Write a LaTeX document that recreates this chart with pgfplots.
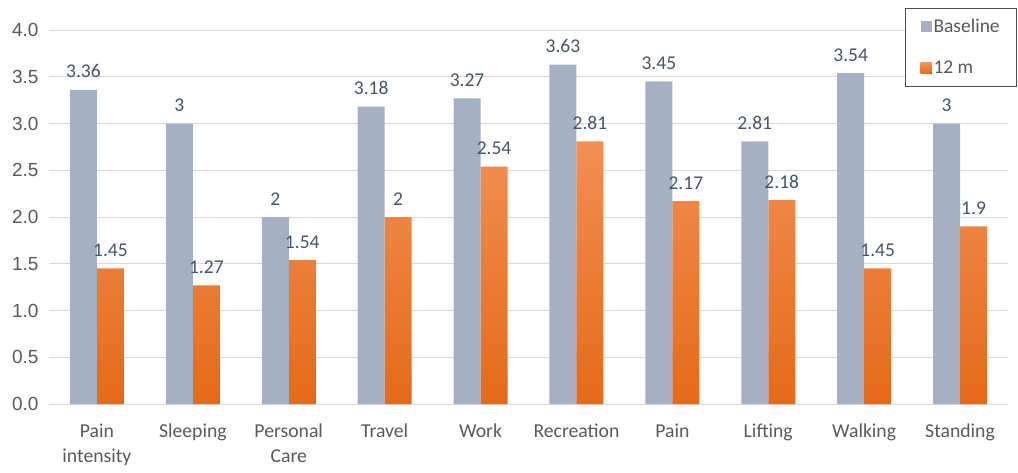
\documentclass[border=0pt]{standalone}
\usepackage{pgfplots}
\pgfplotsset{compat=1.18}
\usepackage{fontspec}
\setmainfont{Carlito}
\newfontfamily\tickfont{Liberation Sans}
\definecolor{basec}{RGB}{166,176,196}
\definecolor{orT}{RGB}{241,143,84}
\definecolor{orB}{RGB}{228,106,24}
\definecolor{valc}{RGB}{68,84,106}
\definecolor{tickc}{RGB}{89,89,89}
\definecolor{gridc}{RGB}{217,217,217}
\begin{document}
\begin{tikzpicture}[x=1pt,y=1pt]
\useasboundingbox (-49,-68) rectangle (969,404);
\begin{axis}[
  at={(0,0)}, anchor=south west,
  scale only axis, width=959pt, height=374pt,
  ybar=0pt, bar width=27pt,
  xmin=-0.5, xmax=9.5, ymin=0, ymax=4,
  xtick={0,...,9},
  xticklabels={{Pain\\intensity},Sleeping,{Personal\\Care},Travel,Work,Recreation,Pain,Lifting,Walking,Standing},
  xticklabel style={align=center, font=\fontsize{19.7}{25}\selectfont, text=tickc, yshift=-16pt},
  ytick={0,0.5,...,4},
  yticklabel style={font=\tickfont\fontsize{19}{23}\selectfont, text=tickc, xshift=-7pt,
    /pgf/number format/.cd, fixed, fixed zerofill, precision=1, assume math mode=true},
  major tick length=0pt,
  ymajorgrids, grid style={gridc, line width=0.8pt},
  axis x line*=bottom,
  axis y line*=left,
  x axis line style={draw=gridc, line width=0.8pt, -},
  y axis line style={draw=none},
  nodes near coords,
  nodes near coords style={font=\fontsize{19.5}{23}\selectfont, text=valc, inner sep=2pt, yshift=9.5pt,
    /pgf/number format/assume math mode=true},
  legend style={at={(rel axis cs:1.0094,1.0588)}, anchor=north east, draw=black!70, line width=0.6pt,
    font=\fontsize{19.5}{23}\selectfont, text=tickc, row sep=23pt, inner xsep=15pt, inner ysep=9pt,
    cells={anchor=west}},
  legend image code/.code={\fill[#1] (0pt,-5.5pt) rectangle (11pt,5.5pt);},
  clip=false,
]
\addplot[fill=basec, draw=none] coordinates {(0,3.36) (1,3) (2,2) (3,3.18) (4,3.27) (5,3.63) (6,3.45) (7,2.81) (8,3.54) (9,3)};
\addplot[top color=orT, bottom color=orB, draw=none] coordinates {(0,1.45) (1,1.27) (2,1.54) (3,2) (4,2.54) (5,2.81) (6,2.17) (7,2.18) (8,1.45) (9,1.9)};
\legend{Baseline,12 m}
\end{axis}
\end{tikzpicture}
\end{document}
